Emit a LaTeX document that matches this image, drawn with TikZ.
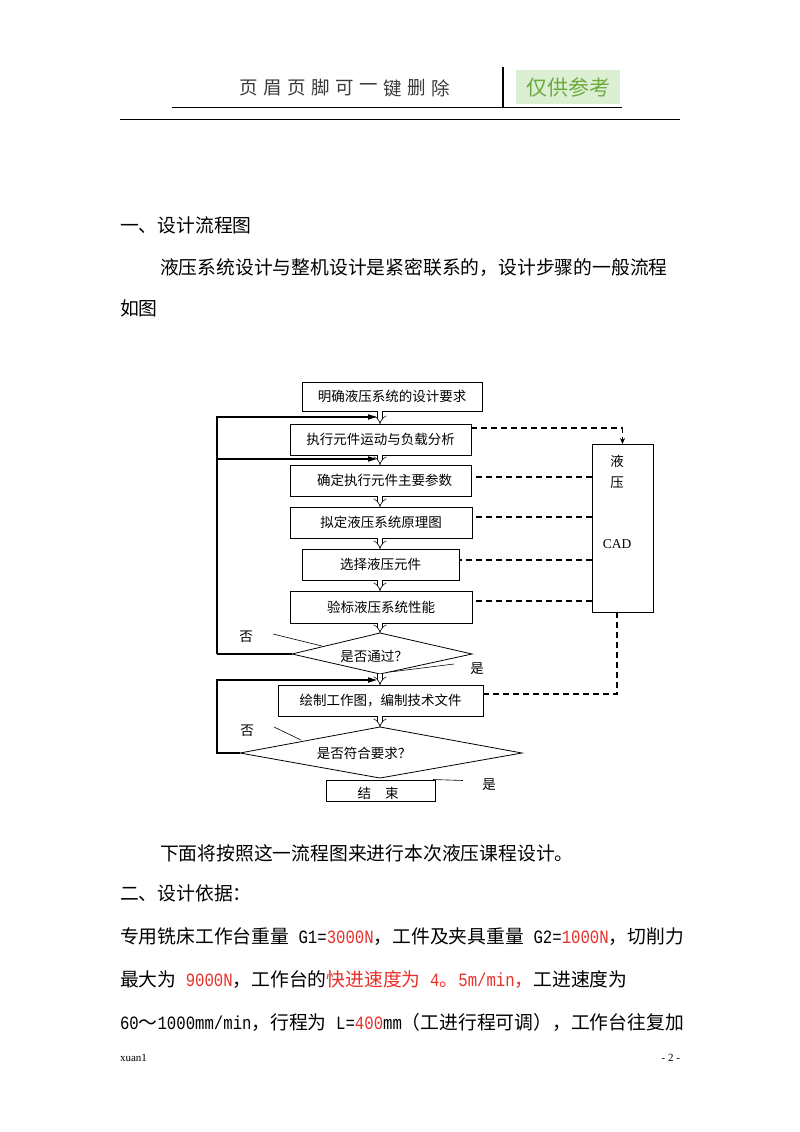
\documentclass[tikz,border=0pt]{standalone}
\usepackage{fontspec}
\setmainfont{Liberation Serif}
\newfontfamily\cjk{Noto Sans CJK SC}
\newfontfamily\asc[FakeStretch=0.833]{Liberation Mono}
\usetikzlibrary{arrows.meta}
\definecolor{redtxt}{HTML}{E8302A}
\definecolor{hdrgreen}{HTML}{6BAA3F}
\definecolor{hdrbg}{HTML}{DDEFD2}
\definecolor{hdrgray}{HTML}{3A3A3A}
\newcommand\asctext[1]{{\asc #1}}
\newcommand\redtext[1]{\textcolor{redtxt}{#1}}
\begin{document}
\begin{tikzpicture}[x=1pt,y=-1pt,
  every node/.style={inner sep=0pt,outer sep=0pt},
  body/.style={anchor=west,font=\cjk\fontsize{18.8}{20}\selectfont},
  fc/.style={font=\cjk\fontsize{13.5}{14}\selectfont},
  fcbox/.style={draw,line width=0.8pt,fc},
  dconn/.style={line width=0.6pt,double distance=4pt,-{Implies}},
  loopline/.style={line width=1.6pt},
  looparrow/.style={line width=1.6pt,-{Triangle[length=9pt,width=5pt]}},
  dsh/.style={line width=1.4pt,dash pattern=on 6pt off 4pt},
  callout/.style={line width=0.6pt},
  outline/.style={line width=0.8pt}
]
\useasboundingbox[fill=white] (0,0) rectangle (800,1132);

% ---------- header ----------
\foreach \c [count=\i] in {页,眉,页,脚,可,一,键,删,除}
  \node[font=\cjk\fontsize{18.5}{18.5}\selectfont,text=hdrgray] (h\i) at ({249+24*(\i-1)},88) {\c};
\node[fill=hdrbg,minimum width=104pt,minimum height=34pt,text=hdrgreen,
      font=\cjk\fontsize{21}{21}\selectfont] (ref) at (568,87) {仅供参考};
\coordinate (hl1) at (172,107.5);
\coordinate (hl2) at (503,107.5);
\coordinate (hl3) at (622,107.5);
\coordinate (hv) at (503,67);
\draw[line width=1.8pt] (hl1) -- (hl2) -- (hl3);
\draw[line width=1.8pt] (hv) -- (hl2);
\coordinate (tl1) at (120,119);
\coordinate (tl2) at (680,119);
\draw[line width=0.9pt] (tl1) -- (tl2);

% ---------- upper text ----------
\node[body] (t1) at (120,225) {一、设计流程图};
\node[body] (t2) at (160,268) {液压系统设计与整机设计是紧密联系的，设计步骤的一般流程};
\node[body] (t3) at (120,308) {如图};

% ---------- flowchart ----------
\coordinate (cx) at (380,0);
\node[fcbox,minimum width=180pt,minimum height=29pt] (b1) at (392,396.5) {明确液压系统的设计要求};
\node[fcbox,minimum width=181pt,minimum height=31pt] (b2) at (380.5,439.5) {执行元件运动与负载分析};
\node[fcbox,minimum width=181pt,minimum height=31pt] (b3) at (380.5,480.5) {\hspace{8pt}确定执行元件主要参数};
\node[fcbox,minimum width=182pt,minimum height=31pt] (b4) at (381,522.5) {拟定液压系统原理图};
\node[fcbox,minimum width=157pt,minimum height=31pt] (b5) at (380.5,564.5) {选择液压元件};
\node[fcbox,minimum width=182pt,minimum height=32pt] (b6) at (381,607) {验标液压系统性能};

\coordinate (d1t) at (380,633);
\coordinate (d1r) at (472,654);
\coordinate (d1b) at (380,674);
\coordinate (d1l) at (292,654);
\draw[outline] (d1t) -- (d1r) -- (d1b) -- (d1l) -- cycle;
\node[fc] (d1) at (374,656) {是否通过？};

\node[fcbox,minimum width=205pt,minimum height=31pt] (b7) at (380.5,700.5) {绘制工作图，编制技术文件\hspace{14pt}};

\coordinate (d2t) at (380,727);
\coordinate (d2r) at (522,753);
\coordinate (d2b) at (380,778);
\coordinate (d2l) at (240,753);
\draw[outline] (d2t) -- (d2r) -- (d2b) -- (d2l) -- cycle;
\node[fc] (d2) at (364,753) {是否符合要求？};

\node[fcbox,minimum width=109pt,minimum height=21pt] (end) at (380.5,790.5) {};
\node[fc] (endtxt) at (378,793) {结\hspace{14pt}束};

% CAD box
\node[draw,line width=0.8pt,minimum width=61pt,minimum height=168pt] (cad) at (622.5,528) {};
\node[fc] (cad1) at (617,461) {液};
\node[fc] (cad2) at (617,483) {压};
\node[font=\fontsize{13.5}{14}\selectfont] (cad3) at (617,544) {CAD};

% double connectors
\draw[dconn] (b1.south -| cx) -- (b2.north -| cx);
\draw[dconn] (b2.south -| cx) -- (b3.north -| cx);
\draw[dconn] (b3.south -| cx) -- (b4.north -| cx);
\draw[dconn] (b4.south -| cx) -- (b5.north -| cx);
\draw[dconn] (b5.south -| cx) -- (b6.north -| cx);
\draw[dconn] (b6.south -| cx) -- (d1t);
\draw[dconn] (d1b) -- (b7.north -| cx);
\draw[dconn] (b7.south -| cx) -- (d2t);

% feedback loops
\coordinate (la) at (217,654);
\coordinate (lb) at (217,417);
\coordinate (lbt) at (377,417);
\coordinate (lc) at (217,459);
\coordinate (lct) at (377,459);
\draw[loopline] (d1l) -- (la);
\draw[looparrow] (la) -- (lb) -- (lbt);
\draw[looparrow] (lc) -- (lct);
\coordinate (ld) at (217,753);
\coordinate (le) at (217,680);
\coordinate (let) at (377,680);
\draw[looparrow] (d2l) -- (ld) -- (le) -- (let);

% dashed links to CAD
\draw[dsh,-{Stealth[length=6pt,width=5pt]}] ([yshift=11.5pt]b2.east) -| (cad.north);
\draw[dsh] ([yshift=3.5pt]b3.east -| cad.west) -- ([yshift=3.5pt]b3.east);
\draw[dsh] ([yshift=5.5pt]b4.east -| cad.west) -- ([yshift=5.5pt]b4.east);
\draw[dsh] ([yshift=4.5pt]b5.east -| cad.west) -- ([yshift=4.5pt]b5.east);
\draw[dsh] ([yshift=6pt]b6.east -| cad.west) -- ([yshift=6pt]b6.east);
\draw[dsh] ([xshift=-5.5pt]cad.south) |- ([yshift=6.5pt]b7.east);

% labels with callouts
\node[fc] (no1) at (246,637) {否};
\coordinate (no1a) at (273,634);
\coordinate (no1b) at (322,646);
\draw[callout] (no1a) -- (no1b);
\node[fc] (yes1) at (477,669) {是};
\coordinate (yes1a) at (454,664);
\coordinate (yes1b) at (390,672);
\draw[callout] (yes1a) -- (yes1b);
\node[fc] (no2) at (247,731) {否};
\coordinate (no2a) at (274,727);
\coordinate (no2b) at (301,740);
\draw[callout] (no2a) -- (no2b);
\node[fc] (yes2) at (489,785) {是};
\coordinate (yes2a) at (433,779.5);
\coordinate (yes2b) at (463,780.5);
\draw[callout] (yes2a) -- (yes2b);

% ---------- lower text ----------
\node[body] (t4) at (160,853) {下面将按照这一流程图来进行本次液压课程设计。};
\node[body] (t5) at (120,893) {二、设计依据：};
\node[body] (t6) at (120,937) {专用铣床工作台重量\asctext{\ G1=}\redtext{\asctext{3000N}}，工件及夹具重量\asctext{\ G2=}\redtext{\asctext{1000N}}，切削力};
\node[body] (t7) at (120,980) {最大为\asctext{\ }\redtext{\asctext{9000N}}，工作台的\redtext{快进速度为\asctext{\ 4}。\asctext{5m/min}，}工进速度为};
\node[body] (t8) at (120,1022) {\asctext{60}～\asctext{1000mm/min}，行程为\asctext{\ L=}\redtext{\asctext{400}}\asctext{mm}（工进行程可调），工作台往复加};

% ---------- footer ----------
\node[anchor=west,font=\fontsize{11}{12}\selectfont] (f1) at (120,1058) {xuan1};
\node[anchor=east,font=\fontsize{11}{12}\selectfont] (f2) at (680,1058) {- 2 -};
\end{tikzpicture}
\end{document}
